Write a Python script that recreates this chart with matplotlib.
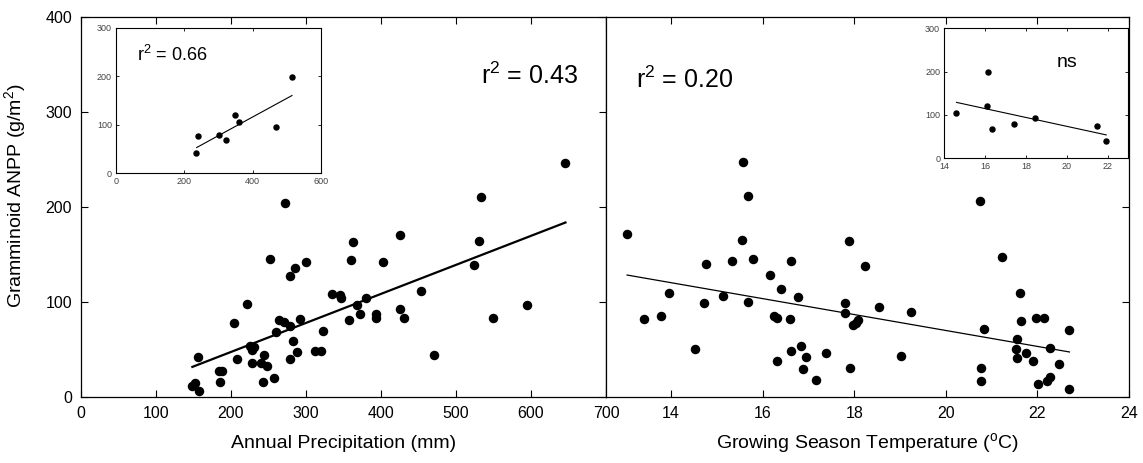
import matplotlib
matplotlib.use("Agg")
import matplotlib.pyplot as plt

plt.rcParams['font.family'] = ['Liberation Sans', 'DejaVu Sans']
plt.rcParams['mathtext.fontset'] = 'custom'
plt.rcParams['mathtext.rm'] = 'Liberation Sans'
plt.rcParams['mathtext.it'] = 'Liberation Sans:italic'

# main panel A: annual precipitation (mm) vs graminoid ANPP (g/m2)
precip = [272, 253, 363, 360, 300, 286, 279, 335, 346, 347, 368, 372, 222, 205,
          293, 264, 271, 279, 261, 323, 357, 283, 288, 312, 321, 279, 226, 231,
          228, 245, 229, 240, 248, 208, 156, 189, 185, 186, 243, 258, 149, 152,
          158, 646, 533, 531, 524, 425, 403, 380, 394, 394, 426, 431, 453, 471,
          549, 595]
anpp_p = [205, 146, 163, 145, 142, 136, 128, 109, 108, 105, 97, 88, 98, 78,
          82, 81, 79, 75, 69, 70, 81, 59, 48, 49, 49, 40, 54, 53,
          50, 45, 36, 36, 33, 40, 42, 28, 28, 16, 16, 20, 12, 15,
          7, 247, 211, 164, 139, 171, 142, 105, 88, 83, 93, 84, 112, 45,
          84, 97]
fit_p_x = [149, 646]
fit_p_y = [32, 184]

# main panel B: growing season temperature (C) vs graminoid ANPP
temp = [15.58, 15.67, 13.04, 15.56, 17.88, 15.33, 15.79, 14.77, 16.63, 18.23,
        16.17, 16.41, 13.95, 15.14, 16.77, 14.73, 15.68, 17.79, 17.79, 18.54,
        13.79, 13.42, 16.24, 16.31, 16.59, 17.97, 18.03, 18.09, 14.53, 16.84,
        16.62, 17.38, 16.95, 16.31, 16.89, 17.90, 17.17,
        20.74, 21.23, 19.24, 19.02, 20.84, 21.62, 21.65, 21.98, 22.14, 22.70,
        21.55, 21.54, 21.76, 22.27, 21.55, 21.90, 22.47, 20.77, 20.77, 22.02,
        22.21, 22.27, 22.70]
anpp_t = [248, 212, 172, 166, 165, 144, 146, 140, 143, 138,
          129, 114, 110, 107, 106, 99, 100, 99, 89, 95,
          86, 82, 86, 84, 82, 76, 78, 81, 51, 54,
          49, 47, 42, 38, 30, 31, 18,
          207, 148, 90, 44, 72, 110, 80, 84, 84, 71,
          61, 51, 47, 52, 41, 38, 35, 31, 17, 14,
          17, 21, 9]
fit_t_x = [13.04, 22.7]
fit_t_y = [128.7, 47.7]

# insets
inset_precip = [514, 349, 360, 240, 300, 323, 234, 467]
inset_anpp_p = [198, 120, 105, 76, 79, 68, 41, 95]
inset_fit_p_x = [236, 515]
inset_fit_p_y = [53, 160]

inset_temp = [14.57, 16.15, 16.07, 16.33, 17.41, 18.46, 21.45, 21.89]
inset_anpp_t = [105, 198, 120, 68, 79, 93, 75, 41]
inset_fit_t_x = [14.6, 21.92]
inset_fit_t_y = [129, 54]

W, H = 1143, 463
fig = plt.figure(figsize=(W / 100, H / 100), dpi=100)


def frac(x0, y0, x1, y1):
    # pixel box (top-left origin) -> figure fraction
    return [x0 / W, 1 - y1 / H, (x1 - x0) / W, (y1 - y0) / H]


ax1 = fig.add_axes(frac(80.5, 17.3, 606, 397.3))
ax2 = fig.add_axes(frac(606, 17.3, 1129, 397.3))

for ax in (ax1, ax2):
    for s in ax.spines.values():
        s.set_linewidth(0.9)
    ax.set_ylim(0, 400)
    ax.tick_params(direction='in', length=5, width=0.8, labelsize=11.5,
                   top=True, pad=6)

ax1.scatter(precip, anpp_p, s=34, color='black', zorder=3)
ax1.plot(fit_p_x, fit_p_y, color='black', lw=1.6)
ax1.set_xlim(0, 700)
ax1.set_xticks(range(0, 701, 100))
ax1.set_yticks(range(0, 401, 100))
ax1.tick_params(right=True)
ax1.set_xlabel('Annual Precipitation (mm)', fontsize=14, va='baseline')
ax1.xaxis.set_label_coords(0.5, -0.133)
ax1.set_ylabel('Gramminoid ANPP (g/m$^2$)', fontsize=14, va='center',
               ha='center')
ax1.yaxis.set_label_coords(-0.125, 0.53)
ax1.text(533, 330, 'r$^2$ = 0.43', fontsize=18)

ax2.scatter(temp, anpp_t, s=34, color='black', zorder=3)
ax2.plot(fit_t_x, fit_t_y, color='black', lw=0.9)
ax2.set_xlim(12.58, 24)
ax2.set_xticks(range(14, 25, 2))
ax2.set_yticks(range(0, 401, 100))
ax2.tick_params(left=False, right=True, labelleft=False)
ax2.set_xlabel('Growing Season Temperature ($^{\\mathrm{o}}$C)', fontsize=14,
               va='baseline')
ax2.xaxis.set_label_coords(0.5, -0.133)
ax2.text(13.24, 326, 'r$^2$ = 0.20', fontsize=18)

in1 = fig.add_axes(frac(116, 27.5, 321, 173.3))
in1.scatter(inset_precip, inset_anpp_p, s=13, color='black', zorder=3)
in1.plot(inset_fit_p_x, inset_fit_p_y, color='black', lw=0.8)
in1.set_xlim(0, 600)
in1.set_xticks([0, 200, 400, 600])
in1.text(62, 232, 'r$^2$ = 0.66', fontsize=13, va='baseline')

in2 = fig.add_axes(frac(944.3, 28.3, 1128.3, 158.3))
in2.scatter(inset_temp, inset_anpp_t, s=13, color='black', zorder=3)
in2.plot(inset_fit_t_x, inset_fit_t_y, color='black', lw=0.8)
in2.set_xlim(14, 23)
in2.set_xticks([14, 16, 18, 20, 22])
in2.text(19.5, 210, 'ns', fontsize=14)

for ax in (in1, in2):
    ax.set_ylim(0, 300)
    ax.set_yticks([0, 100, 200, 300])
    for s in ax.spines.values():
        s.set_linewidth(0.8)
    ax.tick_params(direction='in', length=2, width=0.6, labelsize=6.5,
                   labelcolor='#444444', pad=3, top=True, right=True)

fig.savefig('out.png', dpi=100)
